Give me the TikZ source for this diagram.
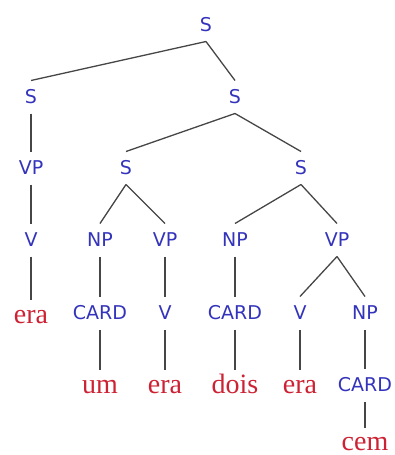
\documentclass[tikz,border=0pt]{standalone}
\usepackage{fontspec}
\setmainfont{Liberation Serif}
\newfontfamily\catfont{DejaVu Sans}
\definecolor{catblue}{RGB}{51,51,187}
\definecolor{wordred}{RGB}{204,34,51}
\definecolor{branchgray}{RGB}{70,70,70}

\begin{document}
\begin{tikzpicture}[
    x=1pt, y=-1pt,
    cat/.style={anchor=base, inner sep=0pt, outer ysep=10pt, text height=13pt, text depth=0pt, text=catblue, font=\catfont\fontsize{19}{21}\selectfont},
    word/.style={cat, text=wordred, font=\fontsize{28}{30}\selectfont},
    branch/.style={draw=branchgray, line width=1.3pt}
]
    \useasboundingbox (0,0) rectangle (394,455);

    % 1. Top of the tree
    \node[cat] (s) at (206, 31.5) {S};
    \node[cat] (sl) at (31, 103.5) {S};
    \node[cat] (sr) at (235, 103.5) {S};

    % 2. Third row
    \node[cat] (vp1) at (31, 174.5) {VP};
    \node[cat] (sa) at (126, 174.5) {S};
    \node[cat] (sb) at (301, 174.5) {S};

    % 3. Fourth row
    \node[cat] (v1) at (31, 246.5) {V};
    \node[cat] (np1) at (100, 246.5) {NP};
    \node[cat] (vp2) at (165, 246.5) {VP};
    \node[cat] (np2) at (235, 246.5) {NP};
    \node[cat] (vp3) at (337, 246.5) {VP};

    % 4. Fifth row
    \node[word] (w1) at (31, 323) {era};
    \node[cat] (card1) at (100, 319.5) {CARD};
    \node[cat] (v2) at (165, 319.5) {V};
    \node[cat] (card2) at (235, 319.5) {CARD};
    \node[cat] (v3) at (300, 319.5) {V};
    \node[cat] (np3) at (365, 319.5) {NP};

    % 5. Words at the bottom
    \node[word] (w2) at (100, 393) {um};
    \node[word] (w3) at (165, 393) {era};
    \node[word] (w4) at (235, 393) {dois};
    \node[word] (w5) at (300, 393) {era};
    \node[cat] (card3) at (365, 391.5) {CARD};
    \node[word] (w6) at (365, 450.5) {cem};

    % Branches
    \draw[branch] (s.south) -- (sl.north);
    \draw[branch] (s.south) -- (sr.north);
    \draw[branch] (sl.south) -- (vp1.north);
    \draw[branch] (sr.south) -- (sa.north);
    \draw[branch] (sr.south) -- (sb.north);
    \draw[branch] (vp1.south) -- (v1.north);
    \draw[branch] (sa.south) -- (np1.north);
    \draw[branch] (sa.south) -- (vp2.north);
    \draw[branch] (sb.south) -- (np2.north);
    \draw[branch] (sb.south) -- (vp3.north);
    \draw[branch] (v1.south) -- (w1.north);
    \draw[branch] (np1.south) -- (card1.north);
    \draw[branch] (vp2.south) -- (v2.north);
    \draw[branch] (np2.south) -- (card2.north);
    \draw[branch] (vp3.south) -- (v3.north);
    \draw[branch] (vp3.south) -- (np3.north);

    % Leaves
    \draw[branch] (card1.south) -- (w2.north);
    \draw[branch] (v2.south) -- (w3.north);
    \draw[branch] (card2.south) -- (w4.north);
    \draw[branch] (v3.south) -- (w5.north);
    \draw[branch] (np3.south) -- (card3.north);
    \draw[branch] (card3.south) -- (w6.north);

\end{tikzpicture}
\end{document}
